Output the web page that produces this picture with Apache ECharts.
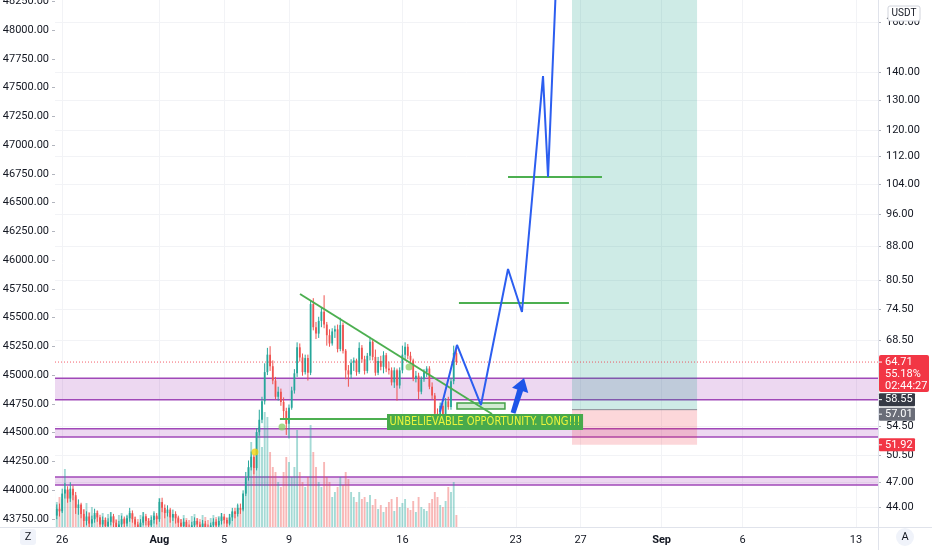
<!DOCTYPE html>
<html><head><meta charset="utf-8">
<script src="https://cdn.jsdelivr.net/npm/echarts@6/dist/echarts.min.js"></script>
<style>html,body{margin:0;padding:0;background:#fff}#c{width:932px;height:550px}</style>
</head><body><div id="c"></div>
<script>
// ---------- axis ticks ----------
const dateTickDays   = [26, 32, 36, 40, 47, 54, 58, 63, 68, 75];   // days counted from Jul 0
const dateTickLabels = ['26', 'Aug', '5', '9', '16', '23', '27', 'Sep', '6', '13'];
const boldDateLabels = ['Aug', 'Sep'];
const leftTicks  = [43750,44000,44250,44500,44750,45000,45250,45500,45750,46000,46250,46500,46750,47000,47250,47500,47750,48000,48250];
const rightTicks = [44,47,50.5,54.5,68.5,74.5,80.5,88,96,104,112,120,130,140,160];
const xRange = [25.556, 76.358];
const leftRange = [43680.5, 48260.7];
const rightRange = [41.72, 169.6];
// ---------- 4h candles (start Jul 25 12:00) ----------
const candleStartDay = 25.5;
const candlesPerDay = 6;
const opens = [42.3,43.0,43.8,43.5,45.6,46.1,45.0,46.2,45.4,43.9,44.3,43.2,42.4,42.9,42.1,42.6,43.3,42.8,42.0,42.5,41.8,42.3,42.9,42.2,41.5,42.0,42.6,42.1,42.7,43.3,42.6,42.0,41.6,42.2,42.9,42.4,41.9,42.5,43.0,42.6,44.6,43.9,43.3,43.7,42.8,43.2,42.7,42.2,41.8,42.3,41.7,41.3,41.9,42.4,42.0,41.6,42.1,41.7,41.4,41.9,42.3,41.9,42.4,42.9,42.5,42.1,42.8,43.5,43.2,43.9,43.7,45.6,47.6,48.9,50.3,48.8,53.7,55.5,58.3,63.0,66.0,64.0,61.6,59.0,59.8,58.2,56.8,54.9,57.3,60.0,62.8,67.3,65.5,63.0,65.4,62.9,75.5,71.0,69.8,72.2,74.0,71.5,69.5,68.0,70.2,70.6,67.0,71.4,66.7,63.3,62.6,64.6,65.0,63.0,67.2,65.2,63.2,65.8,68.3,65.6,62.9,64.9,63.9,65.9,63.6,63.3,61.3,63.3,60.8,63.3,66.0,67.4,65.8,65.0,61.9,62.4,59.8,61.8,63.0,63.6,60.6,59.2,56.4,55.3,57.6,55.8,58.3,57.4,61.5,66.3];
const highs = [43.6,44.3,44.4,46.2,46.9,46.5,47.0,46.6,45.8,44.9,44.5,43.7,43.5,43.3,43.0,43.8,43.6,43.1,42.9,42.8,42.7,43.4,43.2,42.5,42.4,43.0,42.9,43.1,43.9,43.6,42.9,42.3,42.6,43.4,43.2,42.7,42.9,43.5,43.3,45.0,45.1,44.3,44.2,43.9,43.7,43.5,43.0,42.6,42.7,42.5,42.0,42.3,42.8,42.7,42.3,42.5,42.4,42.0,42.2,42.7,42.6,42.8,43.3,43.2,42.8,43.2,43.9,43.9,44.4,44.4,46.0,48.3,49.8,51.0,50.6,54.3,57.0,59.0,64.5,67.2,67.5,65.0,62.2,60.6,60.3,58.9,57.3,57.8,60.6,63.5,68.2,68.0,66.2,66.0,66.0,76.2,76.7,72.0,73.0,74.8,77.3,72.0,70.6,70.8,71.3,71.5,72.8,71.9,67.0,64.2,65.2,65.5,65.3,68.2,67.7,65.8,66.3,69.2,68.8,66.9,65.6,65.8,66.6,66.3,64.8,63.8,63.8,63.6,63.8,67.6,68.2,67.9,66.5,65.3,63.2,62.9,62.3,63.5,64.0,64.0,61.3,59.6,57.2,58.1,58.0,58.8,59.0,62.0,67.6,67.6];
const lows = [41.6,42.6,42.9,43.3,45.0,44.5,44.6,44.8,43.2,43.1,42.7,41.6,41.9,41.3,41.5,42.2,42.3,41.4,41.2,41.0,41.1,41.9,41.6,40.9,41.0,41.7,41.5,41.8,42.3,42.2,41.4,41.0,41.2,41.9,41.9,41.3,41.5,42.1,42.0,42.3,43.4,42.7,42.9,42.2,42.4,42.1,41.6,41.2,41.3,41.1,40.7,40.9,41.6,41.5,41.0,41.2,41.2,40.8,41.0,41.5,41.4,41.6,42.0,42.1,41.5,41.9,42.4,42.7,42.9,43.2,43.5,45.3,47.2,48.5,48.0,48.5,53.2,55.0,57.8,62.5,63.2,61.0,58.6,58.4,57.6,55.6,53.3,52.8,57.0,59.5,62.2,64.8,62.4,62.6,61.6,62.5,70.4,68.8,69.0,71.0,70.8,67.6,67.4,67.6,69.0,66.4,66.6,66.2,61.8,60.6,61.9,63.2,62.4,62.7,64.6,62.6,62.8,65.0,65.0,62.4,62.5,63.3,62.8,63.0,62.6,60.8,60.4,58.4,60.3,62.8,65.0,65.2,64.4,61.5,61.3,58.6,59.4,61.4,62.2,60.2,58.6,55.6,54.9,55.0,55.2,55.4,57.0,57.0,61.0,64.2];
const closes = [43.0,43.8,43.5,45.6,46.1,45.0,46.2,45.4,43.9,44.3,43.2,42.4,42.9,42.1,42.6,43.3,42.8,42.0,42.5,41.8,42.3,42.9,42.2,41.5,42.0,42.6,42.1,42.7,43.3,42.6,42.0,41.6,42.2,42.9,42.4,41.9,42.5,43.0,42.6,44.6,43.9,43.3,43.7,42.8,43.2,42.7,42.2,41.8,42.3,41.7,41.3,41.9,42.4,42.0,41.6,42.1,41.7,41.4,41.9,42.3,41.9,42.4,42.9,42.5,42.1,42.8,43.5,43.2,43.9,43.7,45.6,47.6,48.9,50.3,48.8,53.7,55.5,58.3,63.0,66.0,64.0,61.6,59.0,59.8,58.2,56.8,54.9,57.3,60.0,62.8,67.3,65.5,63.0,65.4,62.9,75.5,71.0,69.8,72.2,74.0,71.5,69.5,68.0,70.2,70.6,67.0,71.4,66.7,63.3,62.6,64.6,65.0,63.0,67.2,65.2,63.2,65.8,68.3,65.6,62.9,64.9,63.9,65.9,63.6,63.3,61.3,63.3,60.8,63.3,66.0,67.4,65.8,65.0,61.9,62.4,59.8,61.8,63.0,63.6,60.6,59.2,56.4,55.3,57.6,55.8,58.3,57.4,61.5,66.3,64.71];
const volumes = [700,500,600,560,1160,740,700,760,600,400,440,360,480,300,400,240,320,200,280,180,260,300,220,160,240,280,180,220,320,260,200,160,240,300,220,180,240,280,200,580,480,340,280,300,240,260,200,160,240,180,140,220,260,180,160,240,200,140,180,240,200,220,280,200,180,260,300,300,440,360,560,900,1200,1700,1400,1900,2000,1600,2300,2200,1500,1200,1100,900,800,1100,1400,1300,1000,1200,1940,1100,900,800,1000,2040,1500,1200,900,800,1300,1000,900,600,700,800,1000,840,1100,960,700,600,500,700,560,600,500,640,440,560,360,440,300,400,500,560,320,600,400,480,560,380,340,520,300,600,400,360,320,480,560,700,600,440,400,520,800,700,900,240];
const volumeRange = [0, 10540];
// ---------- drawings (day, price) ----------
const zones = [[58.55, 62.0], [53.0, 54.2], [46.65, 47.66]];
const trendLine = [[40.68, 77.56], [52.53, 56.36]];
const supportLine = [[39.44, 55.61], [46.05, 55.61]];
const targetLevel1 = [[50.49, 75.73], [57.28, 75.73]];
const targetLevel2 = [[53.52, 105.88], [59.32, 105.88]];
const projection = [[49.32, 56.65], [50.37, 67.72], [51.85, 57.72], [53.52, 82.89], [54.38, 73.93], [55.68, 138.5], [55.99, 105.88], [56.5, 180]];
const entryZone = [50.37, 53.33, 57.11, 58.03];      // day0, day1, priceLo, priceHi
const arrowFromTo = [53.83, 56.5, 54.51, 62.02];     // day0, price0, day1, price1
const positionDays = [57.47, 65.19];
const positionEntry = 57.01, positionStop = 51.92, positionTarget = 190;
const yellowDots = [[37.90, 50.94]];
const greenDots = [[39.57, 54.44], [47.41, 63.86]];
const noteAt = [46.05, 55.17];
const noteText = 'UNBELIEVABLE OPPORTUNITY. LONG!!!';
const lastPrice = 64.71, changeText = '55.18%', countdownText = '02:44:27';
const zoneLabelPrice = 58.55;
const axisUnit = 'USDT';

// ---------- chart ----------
const UP = '#26a69a', DN = '#ef5350';
const FONT = 'Roboto, "Liberation Sans", sans-serif';
const NOTE_FONT = '"Liberation Sans Narrow", "DejaVu Sans Condensed", "Roboto Condensed", sans-serif';
const ln = Math.log;
const chart = echarts.init(document.getElementById('c'));

const candleData = opens.map((o, i) => [candleStartDay + i / candlesPerDay, ln(o), ln(highs[i]), ln(lows[i]), ln(closes[i]), closes[i] >= o ? 1 : 0]);
const volumeData = volumes.map((v, i) => [candleStartDay + i / candlesPerDay, v, closes[i] >= opens[i] ? 1 : 0]);
const lnPts = arr => arr.map(p => [p[0], ln(p[1])]);

function lineSeries(pts, color, width, extra) {
  return Object.assign({
    type: 'line', xAxisIndex: 0, yAxisIndex: 1, data: lnPts(pts), symbol: 'none', silent: true, z: 6,
    lineStyle: { color: color, width: width }, animation: false
  }, extra || {});
}

const option = {
  animation: false,
  backgroundColor: '#ffffff',
  textStyle: { fontFamily: FONT },
  grid: { left: 55, right: 54, top: 0, bottom: 23, outerBoundsMode: 'none', containLabel: false },
  xAxis: {
    type: 'value', min: xRange[0], max: xRange[1],
    axisLine: { show: false },
    axisTick: { show: false, customValues: dateTickDays },
    axisLabel: {
      customValues: dateTickDays, color: '#131722', fontSize: 11, margin: 8, fontFamily: FONT,
      formatter: v => {
        const k = dateTickDays.findIndex(d => Math.abs(d - v) < 1e-6);
        const t = k >= 0 ? dateTickLabels[k] : '';
        return boldDateLabels.includes(t) ? '{b|' + t + '}' : t;
      },
      rich: { b: { fontWeight: 'bold', fontSize: 11, color: '#131722', fontFamily: FONT } }
    },
    splitLine: { show: true, lineStyle: { color: '#f2f3f6', width: 1 } }
  },
  yAxis: [
    {
      type: 'value', position: 'left', min: leftRange[0], max: leftRange[1],
      axisLine: { show: false },
      axisTick: { show: true, length: 3, customValues: leftTicks, lineStyle: { color: '#b2b5be' } },
      axisLabel: { customValues: leftTicks, formatter: v => v.toFixed(2), color: '#131722', fontSize: 11, margin: 6, fontFamily: FONT },
      splitLine: { show: false }
    },
    {
      type: 'value', position: 'right', min: ln(rightRange[0]), max: ln(rightRange[1]),
      axisLine: { show: false },
      axisTick: { show: true, length: 3, customValues: rightTicks.map(ln), lineStyle: { color: '#b2b5be' } },
      axisLabel: { customValues: rightTicks.map(ln), formatter: v => Math.exp(v).toFixed(2), color: '#131722', fontSize: 11, margin: 8, fontFamily: FONT },
      splitLine: { show: true, lineStyle: { color: '#f2f3f6', width: 1 } }
    },
    { type: 'value', min: volumeRange[0], max: volumeRange[1], show: false }
  ],
  series: [
    { // support / resistance zones
      type: 'custom', xAxisIndex: 0, yAxisIndex: 1, z: 1, silent: true, clip: true,
      data: zones.map(z => [xRange[0], xRange[1], ln(z[0]), ln(z[1])]),
      encode: { x: [0, 1], y: [2, 3] },
      renderItem: (p, api) => {
        const a = api.coord([api.value(0), api.value(3)]), b = api.coord([api.value(1), api.value(2)]);
        return { type: 'group', children: [
          { type: 'rect', shape: { x: a[0], y: a[1], width: b[0] - a[0], height: b[1] - a[1] }, style: { fill: 'rgba(156,39,176,0.18)' } },
          { type: 'line', shape: { x1: a[0], y1: a[1], x2: b[0], y2: a[1] }, style: { stroke: '#a048b8', lineWidth: 1.5 } },
          { type: 'line', shape: { x1: a[0], y1: b[1], x2: b[0], y2: b[1] }, style: { stroke: '#a048b8', lineWidth: 1.5 } }
        ]};
      }
    },
    { // long position tool
      type: 'custom', xAxisIndex: 0, yAxisIndex: 1, z: 2, silent: true, clip: true,
      data: [[positionDays[0], positionDays[1], ln(positionStop), ln(positionEntry), ln(positionTarget)]],
      encode: { x: [0, 1], y: [2, 3, 4] },
      renderItem: (p, api) => {
        const s = api.coord([api.value(0), api.value(2)]), e = api.coord([api.value(1), api.value(3)]), t = api.coord([api.value(1), api.value(4)]);
        return { type: 'group', children: [
          { type: 'rect', shape: { x: s[0], y: t[1], width: e[0] - s[0], height: e[1] - t[1] }, style: { fill: 'rgba(8,153,129,0.2)' } },
          { type: 'rect', shape: { x: s[0], y: e[1], width: e[0] - s[0], height: s[1] - e[1] }, style: { fill: 'rgba(242,54,69,0.2)' } },
          { type: 'line', shape: { x1: s[0], y1: e[1], x2: e[0], y2: e[1] }, style: { stroke: '#8a8d96', lineWidth: 1 } }
        ]};
      }
    },
    { // volume
      type: 'custom', xAxisIndex: 0, yAxisIndex: 2, z: 3, silent: true, clip: true,
      data: volumeData, encode: { x: 0, y: 1 },
      renderItem: (p, api) => {
        const top = api.coord([api.value(0), api.value(1)]), base = api.coord([api.value(0), 0]);
        const w = api.size([1 / candlesPerDay, 0])[0] * 0.7;
        return { type: 'rect', shape: { x: top[0] - w / 2, y: top[1], width: w, height: base[1] - top[1] },
          style: { fill: api.value(2) ? 'rgba(38,166,154,0.42)' : 'rgba(239,83,80,0.42)' } };
      }
    },
    { // candles
      type: 'custom', xAxisIndex: 0, yAxisIndex: 1, z: 5, silent: true, clip: true,
      data: candleData, encode: { x: 0, y: [1, 2, 3, 4] },
      renderItem: (p, api) => {
        const x = api.value(0);
        const po = api.coord([x, api.value(1)]), ph = api.coord([x, api.value(2)]), pl = api.coord([x, api.value(3)]), pc = api.coord([x, api.value(4)]);
        const w = api.size([1 / candlesPerDay, 0])[0] * 0.66;
        const col = api.value(5) ? UP : DN;
        const top = Math.min(po[1], pc[1]), h = Math.max(Math.abs(po[1] - pc[1]), 1);
        return { type: 'group', children: [
          { type: 'line', shape: { x1: po[0], y1: ph[1], x2: po[0], y2: pl[1] }, style: { stroke: col, lineWidth: 1 } },
          { type: 'rect', shape: { x: po[0] - w / 2, y: top, width: w, height: h }, style: { fill: col } }
        ]};
      }
    },
    // current price dotted line
    lineSeries([[xRange[0], lastPrice], [xRange[1], lastPrice]], '#f23645', 1, { z: 4, lineStyle: { color: '#f23645', width: 1, type: [1, 2], opacity: 0.8 } }),
    lineSeries(trendLine, '#4caf50', 2),
    lineSeries(supportLine, '#4caf50', 2),
    lineSeries(targetLevel1, '#4caf50', 2),
    lineSeries(targetLevel2, '#4caf50', 2),
    lineSeries(projection, '#2c5ef0', 2, { z: 7 }),
    { // entry zone rectangle
      type: 'custom', xAxisIndex: 0, yAxisIndex: 1, z: 6, silent: true, clip: true,
      data: [[entryZone[0], entryZone[1], ln(entryZone[2]), ln(entryZone[3])]], encode: { x: [0, 1], y: [2, 3] },
      renderItem: (p, api) => {
        const a = api.coord([api.value(0), api.value(3)]), b = api.coord([api.value(1), api.value(2)]);
        return { type: 'rect', shape: { x: a[0], y: a[1], width: b[0] - a[0], height: b[1] - a[1] },
          style: { fill: 'rgba(76,175,80,0.25)', stroke: '#43a047', lineWidth: 1.5 } };
      }
    },
    { // arrow
      type: 'custom', xAxisIndex: 0, yAxisIndex: 1, z: 7, silent: true, clip: true,
      data: [[arrowFromTo[0], ln(arrowFromTo[1]), arrowFromTo[2], ln(arrowFromTo[3])]], encode: { x: [0, 2], y: [1, 3] },
      renderItem: (p, api) => {
        const b = api.coord([api.value(0), api.value(1)]), t = api.coord([api.value(2), api.value(3)]);
        const dx = t[0] - b[0], dy = t[1] - b[1], L = Math.hypot(dx, dy);
        const ux = dx / L, uy = dy / L, nx = -uy, ny = ux;
        const hx = t[0] - ux * 13, hy = t[1] - uy * 13;
        const pts = [
          [b[0] + nx * 2.5, b[1] + ny * 2.5], [hx + nx * 3, hy + ny * 3], [hx + nx * 8.5, hy + ny * 8.5], t,
          [hx - nx * 8.5, hy - ny * 8.5], [hx - nx * 3, hy - ny * 3], [b[0] - nx * 2.5, b[1] - ny * 2.5]
        ];
        return { type: 'polygon', shape: { points: pts }, style: { fill: '#1f55e8' } };
      }
    },
    { type: 'scatter', xAxisIndex: 0, yAxisIndex: 1, z: 6, silent: true, data: lnPts(yellowDots), symbol: 'circle', symbolSize: 7, itemStyle: { color: '#f2d30f' } },
    { type: 'scatter', xAxisIndex: 0, yAxisIndex: 1, z: 6, silent: true, data: lnPts(greenDots), symbol: 'circle', symbolSize: 7, itemStyle: { color: '#8fd16b' } },
    { // note
      type: 'custom', xAxisIndex: 0, yAxisIndex: 1, z: 8, silent: true, clip: false,
      data: [[noteAt[0], ln(noteAt[1])]], encode: { x: 0, y: 1 },
      renderItem: (p, api) => {
        const q = api.coord([api.value(0), api.value(1)]);
        return { type: 'text', x: q[0], y: q[1], scaleX: 0.85, style: {
          text: noteText, fill: '#e9f43c', font: '13px ' + NOTE_FONT, verticalAlign: 'middle', align: 'left',
          backgroundColor: '#48aa4c', padding: [2, 3, 1, 3] } };
      }
    }
  ]
};
chart.setOption(option);

// price-scale labels and pane chrome
const ax = chart.convertToPixel({ xAxisIndex: 0 }, xRange[1]);
const ay0 = chart.convertToPixel({ yAxisIndex: 1 }, ln(rightRange[0]));
const yp = v => chart.convertToPixel({ yAxisIndex: 1 }, ln(v));
function priceTag(price, yc, fill, text) {
  return [
    { type: 'rect', shape: { x: ax + 1, y: yc - 6.5, width: 36, height: 13, r: 1 }, style: { fill: fill }, z: 100 },
    { type: 'line', shape: { x1: ax + 1, y1: yc, x2: ax + 4, y2: yc }, style: { stroke: '#ffffff', lineWidth: 1 }, z: 101 },
    { type: 'text', x: ax + 7, y: yc, style: { text: text, fill: '#ffffff', font: '11px ' + FONT, verticalAlign: 'middle' }, z: 101 }
  ];
}
const yl = yp(lastPrice);
const graphics = [
  { type: 'line', shape: { x1: ax + 0.5, y1: 0, x2: ax + 0.5, y2: 550 }, style: { stroke: '#e0e3eb', lineWidth: 1 }, z: 50 },
  { type: 'line', shape: { x1: 0, y1: ay0 + 0.5, x2: 932, y2: ay0 + 0.5 }, style: { stroke: '#e0e3eb', lineWidth: 1 }, z: 50 },
  { type: 'rect', shape: { x: ax + 1, y: yl - 7, width: 50, height: 37, r: 2 }, style: { fill: '#f23645' }, z: 100 },
  { type: 'line', shape: { x1: ax + 1, y1: yl, x2: ax + 4, y2: yl }, style: { stroke: '#ffffff', lineWidth: 1 }, z: 101 },
  { type: 'text', x: ax + 7, y: yl - 6, style: { text: lastPrice.toFixed(2) + '\n' + changeText + '\n' + countdownText, fill: '#ffffff', font: '11px ' + FONT, lineHeight: 12 }, z: 101 },
  ...priceTag(zoneLabelPrice, yp(zoneLabelPrice), '#363a45', zoneLabelPrice.toFixed(2)),
  ...priceTag(positionEntry, yp(positionEntry) + 4.5, '#6a6d78', positionEntry.toFixed(2)),
  ...priceTag(positionStop, yp(positionStop), '#f23645', positionStop.toFixed(2)),
  { type: 'rect', shape: { x: ax + 10, y: 6, width: 32, height: 15, r: 2 }, style: { fill: '#ffffff', stroke: '#d1d4dc', lineWidth: 1 }, z: 100 },
  { type: 'text', x: ax + 26, y: 13.5, style: { text: axisUnit, fill: '#131722', font: '10px ' + FONT, align: 'center', verticalAlign: 'middle' }, z: 101 },
  { type: 'rect', shape: { x: 20, y: 529, width: 16, height: 16, r: 3 }, style: { fill: '#f0f3fa' }, z: 100 },
  { type: 'text', x: 28, y: 537, style: { text: 'Z', fill: '#131722', font: '11px ' + FONT, align: 'center', verticalAlign: 'middle' }, z: 101 },
  { type: 'circle', shape: { cx: ax + 27, cy: 537, r: 9 }, style: { fill: '#f0f3fa' }, z: 100 },
  { type: 'text', x: ax + 27, y: 537, style: { text: 'A', fill: '#131722', font: '11px ' + FONT, align: 'center', verticalAlign: 'middle' }, z: 101 }
];
chart.setOption({ graphic: graphics });
</script>
</body></html>
